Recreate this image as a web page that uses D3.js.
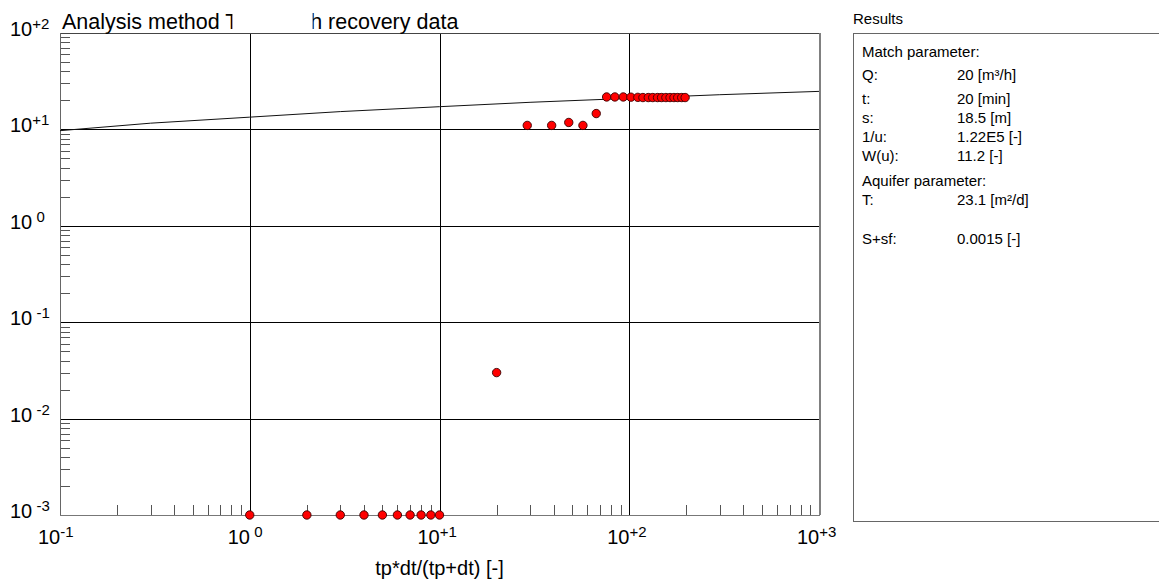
<!DOCTYPE html>
<html>
<head>
<meta charset="utf-8">
<script src="https://cdn.jsdelivr.net/npm/d3@7"></script>
<style>
  html, body { margin: 0; padding: 0; background: #fff; }
  svg { display: block; font-family: Arial, "Liberation Sans", Helvetica, sans-serif; }
</style>
</head>
<body>
<svg id="chart" width="1159" height="583"></svg>
<script>
// Recovery test data: tp*dt/(tp+dt) against residual drawdown
const recoveryX = [1, 2, 3, 4, 5, 6, 7, 8, 9, 10,
  20,
  29, 39, 48, 57, 67,
  76, 84, 93, 102, 111, 118, 126, 133, 141, 148, 156, 164, 172, 180, 189, 197];
const recoveryY = [0.001, 0.001, 0.001, 0.001, 0.001, 0.001, 0.001, 0.001, 0.001, 0.001,
  0.03,
  11.0, 11.0, 11.8, 11.0, 14.6,
  21.7, 21.7, 21.7, 21.6, 21.5, 21.4, 21.4, 21.4, 21.4, 21.4, 21.4, 21.4, 21.4, 21.4, 21.4, 21.4];

// Fitted type curve
const curveX = [0.1, 0.3, 1, 3, 10, 30, 100, 300, 1000];
const curveY = [9.7, 11.6, 13.4, 15.3, 17.2, 19.1, 21.0, 22.9, 24.8];

// Decade tick labels (base 10 with exponent)
const xTickValues = [0.1, 1, 10, 100, 1000];
const xTickExps = ["-1", " 0", "+1", "+2", "+3"];
const yTickValues = [0.001, 0.01, 0.1, 1, 10, 100];
const yTickExps = [" -3", " -2", " -1", " 0", "+1", "+2"];

// Results panel
const resultHeader = "Results";
const resultLabels = ["Match parameter:", "Q:", "t:", "s:", "1/u:", "W(u):", "Aquifer parameter:", "T:", "S+sf:"];
const resultValues = ["", "20 [m³/h]", "20 [min]", "18.5 [m]", "1.22E5 [-]", "11.2 [-]", "", "23.1 [m²/d]", "0.0015 [-]"];
const resultRowY = [52, 75, 99, 118, 137, 156, 181, 200, 239];

const titleText = "Analysis method Theis with recovery data";
const xAxisTitle = "tp*dt/(tp+dt) [-]";

const svg = d3.select("#chart");
const plot = { left: 60, right: 819, top: 33, bottom: 515 };

const x = d3.scaleLog().domain([0.1, 1000]).range([plot.left, plot.right]);
const y = d3.scaleLog().domain([0.001, 100]).range([plot.bottom, plot.top]);

svg.append("clipPath").attr("id", "plot-clip")
  .append("rect")
  .attr("x", plot.left).attr("y", plot.top)
  .attr("width", plot.right - plot.left).attr("height", plot.bottom - plot.top);

// Minor ticks (2..9 within each decade)
const minorX = [];
for (let e = -1; e < 3; e++) for (let m = 2; m <= 9; m++) minorX.push(m * Math.pow(10, e));
const minorY = [];
for (let e = -3; e < 2; e++) for (let m = 2; m <= 9; m++) minorY.push(m * Math.pow(10, e));

const gTicks = svg.append("g").attr("stroke", "#555").attr("stroke-width", 1).attr("shape-rendering", "crispEdges");
gTicks.selectAll("line.mx").data(minorX).join("line")
  .attr("x1", d => Math.round(x(d)) + 0.5).attr("x2", d => Math.round(x(d)) + 0.5)
  .attr("y1", plot.bottom).attr("y2", plot.bottom - 10);
gTicks.selectAll("line.my").data(minorY).join("line")
  .attr("x1", plot.left).attr("x2", plot.left + 10)
  .attr("y1", d => Math.round(y(d)) + 0.5).attr("y2", d => Math.round(y(d)) + 0.5);

// Major grid lines
const gGrid = svg.append("g").attr("stroke", "#000").attr("stroke-width", 1).attr("shape-rendering", "crispEdges");
gGrid.selectAll("line.gx").data(xTickValues.slice(1, -1)).join("line")
  .attr("x1", d => Math.round(x(d)) + 0.5).attr("x2", d => Math.round(x(d)) + 0.5)
  .attr("y1", plot.top).attr("y2", plot.bottom);
gGrid.selectAll("line.gy").data(yTickValues.slice(1, -1)).join("line")
  .attr("x1", plot.left).attr("x2", plot.right)
  .attr("y1", d => Math.round(y(d)) + 0.5).attr("y2", d => Math.round(y(d)) + 0.5);

// Frame
const gFrame = svg.append("g").attr("fill", "none").attr("shape-rendering", "crispEdges");
gFrame.append("line").attr("x1", plot.left).attr("x2", plot.right + 1).attr("y1", plot.top + 0.5).attr("y2", plot.top + 0.5).attr("stroke", "#444");
gFrame.append("line").attr("x1", plot.right + 0.5).attr("x2", plot.right + 0.5).attr("y1", plot.top).attr("y2", plot.bottom).attr("stroke", "#808080").attr("stroke-width", 2);
gFrame.append("line").attr("x1", plot.left + 0.5).attr("x2", plot.left + 0.5).attr("y1", plot.top).attr("y2", plot.bottom + 1).attr("stroke", "#666").attr("stroke-width", 1.5);
gFrame.append("line").attr("x1", plot.left).attr("x2", plot.right + 1).attr("y1", plot.bottom + 0.5).attr("y2", plot.bottom + 0.5).attr("stroke", "#777").attr("stroke-width", 1.5);

// Type curve
const curvePts = curveX.map((v, i) => [v, curveY[i]]);
svg.append("path")
  .datum(curvePts)
  .attr("clip-path", "url(#plot-clip)")
  .attr("fill", "none")
  .attr("stroke", "#111")
  .attr("stroke-width", 1)
  .attr("d", d3.line().x(d => x(d[0])).y(d => y(d[1])));

// Measured points
const pts = recoveryX.map((v, i) => [v, recoveryY[i]]);
svg.append("g").selectAll("circle").data(pts).join("circle")
  .attr("cx", d => x(d[0]))
  .attr("cy", d => y(d[1]))
  .attr("r", 4.2)
  .attr("fill", "#ff0000")
  .attr("stroke", "#3a0000")
  .attr("stroke-width", 0.9);

// Tick labels
const labelSize = 20, supSize = 15;
const yl = svg.append("g").attr("font-size", labelSize).attr("fill", "#000");
yTickValues.forEach((v, i) => {
  const t = yl.append("text").attr("x", 10).attr("y", y(v) + 3);
  t.append("tspan").text("10");
  t.append("tspan").attr("dy", -7).attr("font-size", supSize).text(yTickExps[i]);
});
const xl = svg.append("g").attr("font-size", labelSize).attr("fill", "#000");
xTickValues.forEach((v, i) => {
  const t = xl.append("text").attr("x", x(v) - 22).attr("y", plot.bottom + 29);
  t.append("tspan").text("10");
  t.append("tspan").attr("dy", -7).attr("font-size", supSize).text(xTickExps[i]);
});

// Axis title
svg.append("text")
  .attr("x", x(10)).attr("y", 575)
  .attr("text-anchor", "middle")
  .attr("font-size", 20)
  .text(xAxisTitle);

// Chart title, partly covered by a blank label box
const titleX = 62;
const title = svg.append("text")
  .attr("x", titleX).attr("y", 29)
  .attr("font-size", 21.5)
  .text(titleText);
const tNode = title.node();
const tStart = titleX + tNode.getSubStringLength(0, "Analysis method ".length);
const tWidth = tNode.getSubStringLength("Analysis method ".length, 1);
const hStart = titleX + tNode.getSubStringLength(0, "Analysis method Theis wit".length);
svg.append("rect")
  .attr("x", tStart + tWidth / 2 + 0.5)
  .attr("y", 5)
  .attr("width", hStart + 2.5 - (tStart + tWidth / 2 + 0.5))
  .attr("height", 27)
  .attr("fill", "#fff");

// Results panel
const panel = { left: 853, top: 33, bottom: 521 };
svg.append("text").attr("x", panel.left).attr("y", 24).attr("font-size", 15).text(resultHeader);
svg.append("path")
  .attr("d", `M1160,${panel.top + 0.5}H${panel.left + 0.5}V${panel.bottom + 0.5}H1160`)
  .attr("fill", "none").attr("stroke", "#666").attr("stroke-width", 1.2)
  .attr("shape-rendering", "crispEdges");
const rg = svg.append("g").attr("font-size", 15).attr("fill", "#000");
resultLabels.forEach((lab, i) => {
  const yy = resultRowY[i] + 5;
  rg.append("text").attr("x", 862).attr("y", yy).text(lab);
  if (resultValues[i]) rg.append("text").attr("x", 957).attr("y", yy).text(resultValues[i]);
});
</script>
</body>
</html>
